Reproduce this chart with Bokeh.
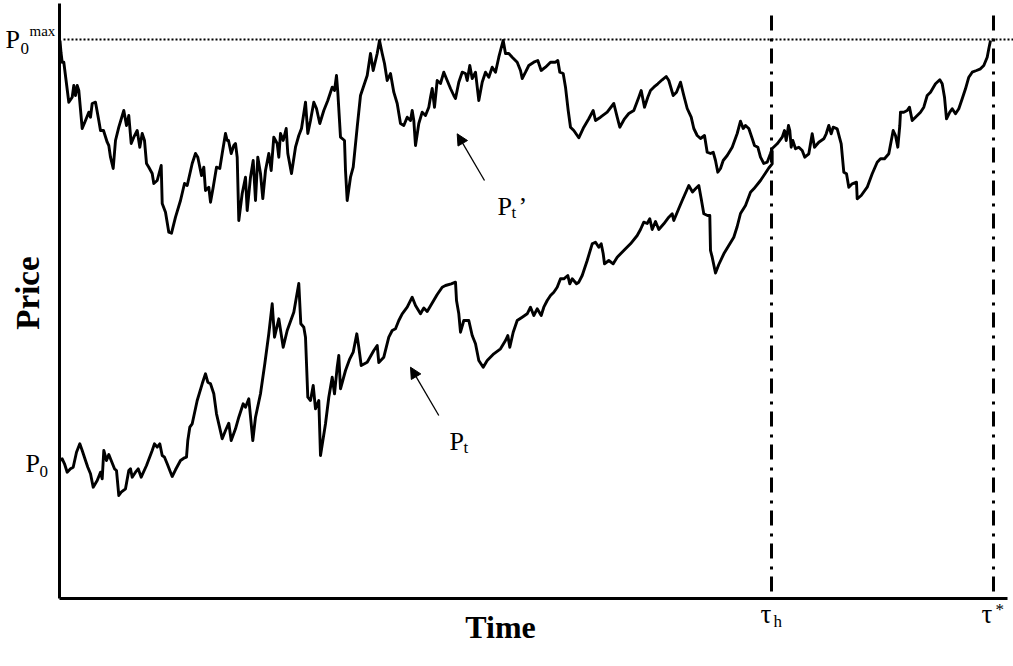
import math
from bokeh.plotting import figure
from bokeh.models import Range1d, Label, Arrow, NormalHead, FixedTicker
from bokeh.embed import file_html
from bokeh.resources import INLINE

# ---- data (time units, price units) ----
P0 = 138.0          # starting price P_0
P0_MAX = 559.0      # running maximum P_0^max
TAU_H = 712.0       # tau_h
TAU_STAR = 934.0    # tau*
T_AXIS_END = 948.0  # end of the time axis
P_AXIS_END = 595.0  # end of the price axis
V_TOP = 583.0       # top of the vertical marker lines

# P_t' path (time, price)
P_PRIME = [
    (0.5, 558), (1.5, 546), (2.7, 536.3), (4.3, 536.3), (9.3, 496.3), (12.7, 501.3), (14.3, 513), (16, 503),
    (17.7, 513), (19.3, 508), (22.7, 470), (26, 478), (29.3, 486.3), (31, 481.3), (32.7, 495), (36, 496.3),
    (39.3, 478), (41, 468), (44, 468), (47.7, 456.3), (49.3, 453), (51, 441.3), (53.7, 430), (56, 458),
    (59.3, 471.3), (64.3, 488), (67, 473), (69.3, 483), (71.7, 455), (74.3, 461.3), (77.7, 468), (80.3, 451.3),
    (82.7, 465), (85, 458), (87, 435), (89.3, 431.3), (92.7, 425), (94.3, 415), (97.7, 418), (101.7, 433),
    (102.7, 395), (106, 386.3), (109.3, 366.3), (112, 365.3), (116, 381.3), (121, 398), (125, 415), (127.7, 413),
    (132.7, 435), (136, 445), (138.3, 441.3), (142, 423), (144.3, 431.3), (146, 408), (149.3, 411.3), (151, 396.3),
    (153.7, 411.3), (157, 431.3), (160.3, 430), (162.7, 445), (166, 465), (167.7, 458), (169, 458), (171.7, 445),
    (174.3, 453), (176, 455), (177.7, 441.3), (179.3, 378), (182.7, 405), (186, 421.3), (187.7, 388), (191, 421.3),
    (193.7, 438), (196, 398), (198.3, 441.3), (201, 425), (203.3, 400), (206, 428), (209.3, 445), (211.7, 428),
    (214.3, 461.3), (217.7, 455), (219.3, 441.3), (221, 465), (223.7, 458), (226.7, 470), (228.3, 445), (232, 425),
    (236, 451.3), (239.3, 463), (242, 470), (246, 496.3), (248.3, 465), (251, 478), (254.3, 496.3), (257, 490),
    (260.3, 475), (264.3, 488), (268.3, 498), (272.7, 511.3), (275, 508), (277, 523), (278.3, 506.3), (281, 461.3),
    (285, 458), (286, 428), (287.7, 398), (291, 421.3), (293.7, 431.3), (297.7, 471.3), (301, 503), (307.7, 523),
    (311, 545), (313.7, 528), (317.7, 545), (320, 558), (322.7, 545), (325, 535), (327.7, 518), (331, 525),
    (334.3, 506.3), (337.7, 495), (341, 475), (344.3, 473), (347.7, 481.3), (351, 478), (352.7, 488), (354.3, 478),
    (356, 453), (359.3, 475), (362.7, 486.3), (366, 483), (369.3, 491.3), (371, 501.3), (372.7, 510), (375, 491.3),
    (377.7, 518), (381, 515), (384.3, 526.3), (387.7, 518), (391, 510), (394.3, 503), (396, 500), (399.3, 516.3),
    (402.7, 526.3), (406, 525), (407.7, 518), (410.3, 533), (412.7, 520), (416, 526.3), (419.3, 498), (422.7, 516.3),
    (426, 526.3), (429.3, 521.3), (432.7, 531.3), (436, 526.3), (439.3, 541.3), (441, 548), (443.7, 558), (446, 545),
    (449.3, 545), (452.7, 541.3), (457.7, 536.3), (461, 528), (462.7, 520), (466, 526.3), (469.3, 533), (474.3, 536.3),
    (478.3, 538), (481.7, 528), (486, 531.3), (491, 536.3), (496, 536.3), (498.3, 538), (500.3, 526.3), (503.7, 525),
    (506, 511.3), (508.7, 488), (511, 471.3), (514.3, 468), (519.3, 460.7), (524.3, 471.3), (529.3, 479.7), (533.7, 488),
    (536, 478), (541, 481.3), (547.7, 486.3), (554.3, 495), (557.7, 481.3), (560.3, 471.3), (565, 479.7), (569.3, 485),
    (574.3, 488), (579.3, 501.3), (581.7, 508), (585, 491.3), (588.3, 501.3), (591, 508), (594.3, 511.3), (598.3, 514.7),
    (602.7, 518.7), (606.7, 522), (609.3, 518), (613.7, 503), (617, 506.3), (621, 516.3), (624.3, 503), (627.7, 490),
    (631.7, 481.3), (634.3, 470), (637.7, 463), (641, 460), (645, 463), (647.7, 446.3), (651, 445), (653.7, 446.3),
    (656, 438), (658.3, 426.3), (661, 430), (663.7, 438), (667.7, 443), (672.7, 451.3), (677.7, 465), (681, 477.3),
    (683.7, 470), (686, 473), (689.3, 470), (692.7, 460), (695, 453), (698.3, 451.3), (701, 441.3), (704.3, 435),
    (707.7, 436.3), (711, 445), (712.7, 450), (717.7, 454.7), (722.7, 461.3), (725, 468), (726.7, 458), (729, 473),
    (730.3, 468), (731.7, 451.3), (733.3, 458), (736, 449.7), (739.3, 451.3), (742.7, 448), (745.3, 441.3), (749.3, 444.7),
    (752.7, 464.7), (755, 451.3), (759.3, 456.3), (764.3, 459.7), (766.7, 464.7), (769.3, 473), (771.7, 464.7), (773.7, 471.3),
    (777.7, 469.7), (781.7, 454.7), (784.3, 426.3), (787, 424.7), (789.3, 411.3), (792.7, 414.7), (797, 416.3), (797.7, 399.7),
    (801.7, 403), (807.7, 411.3), (812.7, 424.7), (817.7, 436.3), (821, 439.7), (825, 439.7), (829.3, 444.7), (833.7, 468),
    (836, 463), (838.3, 451.3), (840.3, 473), (841, 486.3), (844.3, 486.3), (847.7, 488), (850, 491.3), (852.7, 478),
    (856, 481.3), (861, 486.3), (864.3, 491.3), (867.7, 503), (871, 506.3), (876, 514.7), (880.3, 518.7), (882.7, 514.7),
    (885, 501.3), (887, 479.7), (890.3, 486.3), (892.7, 489.7), (896, 484.7), (899.3, 489.7), (902.7, 499.7), (906, 509.7),
    (909.3, 521.3), (912.7, 526.3), (917, 528), (921, 529.7), (924.3, 533), (927.7, 541.3), (929.3, 549.7), (931, 558),
]

# P_t path (time, price)
P_T = [
    (1, 138), (2.7, 139.7), (5, 134.7), (7.7, 126.3), (11, 129.7), (13.7, 131.3), (17, 146.3), (20.3, 154.7),
    (22.7, 148), (26, 138), (28.3, 131.3), (31, 124.7), (33.7, 111.3), (37.7, 118), (41, 126.3), (42.7, 119.7),
    (44.3, 148), (47, 138), (49.3, 144), (51.7, 138), (55, 129.7), (57, 128), (59.3, 103), (61.7, 106.3),
    (66, 109.7), (69.3, 128), (71, 129.7), (72.7, 121.3), (76, 126.3), (78.7, 129.7), (81.7, 121.3), (87, 133),
    (92.7, 148), (95, 154.7), (97.7, 151.3), (100.3, 154.7), (102.7, 143), (105, 141.3), (107.7, 134.7), (111, 126.3),
    (112.7, 122), (116, 128.7), (121, 138), (124.3, 140.3), (127, 141.3), (128.3, 158), (130.3, 171.3), (132.7, 174.7),
    (137.7, 198), (142.7, 214.7), (146, 224.7), (148.3, 216.3), (151, 214.7), (154.3, 204.7), (157, 184.7), (159.3, 174.7),
    (162.7, 159.7), (166, 168), (169.3, 175.3), (171.7, 158), (176, 169.7), (179.3, 181.3), (183.7, 194.7), (186, 191.3),
    (189.3, 199.7), (193.3, 158), (196, 181.3), (201, 204.7), (205.3, 234.7), (209.3, 264.7), (212.7, 294.7), (215, 261.3),
    (219.3, 279.7), (223.7, 251.3), (227.7, 268), (234.3, 286.3), (239.3, 315), (241.3, 274.7), (244.3, 271.3), (246, 261.3),
    (248.3, 201.3), (251, 198), (253.7, 213), (256, 189.7), (259.3, 198), (261, 143), (266, 174.7), (269.3, 201.3),
    (272.7, 221.3), (275, 204.7), (277.7, 231.3), (279.3, 243), (281, 209.7), (286, 228), (290.3, 239.7), (293.7, 246.3),
    (297.3, 264.7), (299.3, 251.3), (301.7, 233), (307.7, 236.3), (314.3, 248), (317.7, 253), (319.3, 236), (324.3, 241.3),
    (329.3, 261.3), (332.7, 268), (336, 269.7), (339.3, 278), (342.7, 284.7), (347.7, 291.3), (352.7, 301.3), (356, 293),
    (361, 284.7), (364.3, 290.5), (367.7, 287), (372.7, 295.5), (377.7, 304), (382.7, 311.3), (386, 313), (391.7, 314.7),
    (396, 316.3), (397, 298), (399.3, 284.7), (401, 266.3), (404.3, 278), (409.3, 278), (412.7, 263), (416, 254.7),
    (419.3, 238), (423.7, 231.3), (427.7, 238), (434.3, 244.7), (441, 249.7), (446, 258), (448.3, 263), (450.3, 251.3),
    (453.7, 266.3), (457.7, 278), (462.7, 281.3), (467.7, 284.7), (471, 291.3), (474.3, 283), (477.7, 289.7), (481.7, 283),
    (484.3, 291.3), (487.7, 298), (491, 303), (494.3, 306.3), (497.7, 311.3), (501, 319.7), (504.3, 319.7), (508.3, 323),
    (510.3, 314.7), (512.7, 319.7), (517, 314.7), (519.3, 316.3), (522.7, 323), (527.7, 338), (532.7, 354.7), (536, 356.3),
    (539.3, 351.3), (541.7, 354.7), (543.7, 344.7), (545, 334.7), (549.3, 338), (553.7, 334.7), (557.7, 341.3), (564.3, 348),
    (571, 354.7), (577.7, 363), (581, 369), (584.3, 376.3), (587.7, 375), (590.3, 379.7), (592.7, 369), (596, 377),
    (599.3, 369), (604.3, 374.7), (609.3, 381.3), (612.7, 384.7), (614.3, 378), (619.3, 390), (622.7, 398), (629.3, 413),
    (633, 406.5), (636, 409.7), (639.3, 413), (641.7, 399.7), (644.3, 384.7), (648, 383), (650.3, 383), (651, 348),
    (652.7, 341.3), (656, 325.5), (659.3, 334), (664.3, 344.7), (669.3, 353), (674.3, 361.3), (677.7, 372), (681, 385),
    (686, 393), (691, 406.3), (694.3, 409.7), (701, 418), (706, 425.5), (709.3, 430.5), (712.7, 434.7), (712.7, 448),
]

# arrows: (tail time, tail price, head time, head price)
ARROW_P_PRIME = (425.0, 418.0, 397.7, 464.7)
ARROW_P_T = (379.3, 183.0, 351.0, 231.3)

FONT = "Liberation Serif"

# the frame covers the whole canvas; the axes are pinned at time 0 / price 0
p = figure(width=1013, height=666,
           min_border_left=0, min_border_right=0, min_border_top=0, min_border_bottom=0,
           x_range=Range1d(-59, 954), y_range=Range1d(-68, 598),
           output_backend="svg", toolbar_location=None)
p.outline_line_color = None
p.grid.visible = False
p.background_fill_color = "white"
p.border_fill_color = "white"

p.xaxis.fixed_location = 0
p.xaxis.bounds = (0, T_AXIS_END)
p.yaxis.fixed_location = 0
p.yaxis.bounds = (0, P_AXIS_END)
for ax in (p.xaxis[0], p.yaxis[0]):
    ax.ticker = FixedTicker(ticks=[])
    ax.axis_line_width = 3
    ax.axis_line_color = "black"
    ax.major_tick_line_color = None
    ax.minor_tick_line_color = None
    ax.major_label_text_font_size = "0px"

# running-max reference line
p.line([4, 954], [P0_MAX, P0_MAX], line_color="black", line_width=2, line_dash="2 2")

# vertical dash-dot markers at tau_h and tau*
p.segment(x0=[TAU_H, TAU_STAR], y0=[V_TOP, V_TOP], x1=[TAU_H, TAU_STAR], y1=[0, 0],
          line_color="black", line_width=3, line_dash="15 8 3 7")

# price paths
p.line([a for a, b in P_PRIME], [b for a, b in P_PRIME], line_color="black", line_width=2.9, line_join="round")
p.line([a for a, b in P_T], [b for a, b in P_T], line_color="black", line_width=2.9, line_join="round")

for (x0, y0, x1, y1) in (ARROW_P_PRIME, ARROW_P_T):
    p.add_layout(Arrow(end=NormalHead(size=11, fill_color="black", line_color="black", line_width=1),
                       x_start=x0, y_start=y0, x_end=x1, y_end=y1,
                       line_color="black", line_width=1.3))


def lab(text, x, y, size, bold=False, **kw):
    p.add_layout(Label(x=x, y=y, text=text, text_font=FONT, text_font_size=f"{size}px",
                       text_font_style="bold" if bold else "normal", text_color="black",
                       text_baseline=kw.pop("baseline", "alphabetic"),
                       text_align=kw.pop("align", "left"), **kw))


# P_0^max
lab("P", -54, 559, 26)
lab("0", -39, 550, 17)
lab("max", -30, 568, 15)
# P_0
lab("P", -34, P0 - 3, 26)
lab("0", -20, P0 - 11, 17)
# P_t'
lab("P", 438, 392, 26)
lab("t", 452, 386, 17)
lab("\u2019", 459, 392, 26)
# P_t
lab("P", 390, 157, 26)
lab("t", 404, 151, 17)
# tau_h, tau*
lab("\u03c4", TAU_H - 11, -15, 27)
lab("h", TAU_H + 2, -23, 17)
lab("\u03c4", TAU_STAR - 12, -15, 27)
lab("*", TAU_STAR + 2, -11, 17)
# axis titles
lab("Price", -31.5, 305.5, 33, bold=True, align="center", baseline="middle", angle=math.pi / 2)
lab("Time", 441, -28, 32, bold=True, align="center")

open("out.html", "w").write(file_html(p, INLINE))
